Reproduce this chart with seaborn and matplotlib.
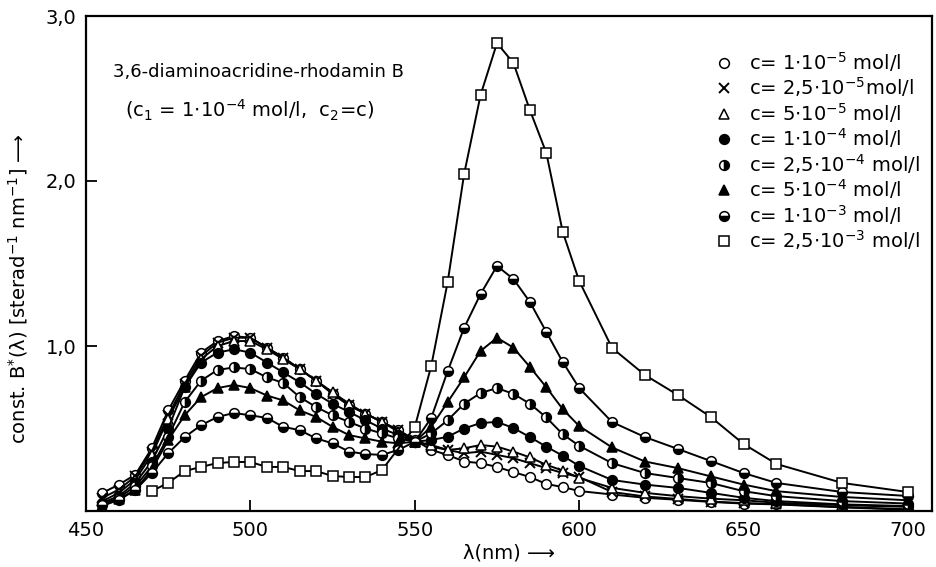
import matplotlib
matplotlib.use("Agg")
import matplotlib.pyplot as plt
import pandas as pd
import seaborn as sns

# wavelength grid (nm) used by the first seven concentrations
WAVELENGTHS = [455, 460, 465, 470, 475, 480, 485, 490, 495, 500, 505, 510, 515,
               520, 525, 530, 535, 540, 545, 550, 555, 560, 565, 570, 575, 580,
               585, 590, 595, 600, 610, 620, 630, 640, 650, 660, 680, 700]
# the 2.5e-3 series has no points below 470 nm and none at 545 nm
SQUARE_WAVELENGTHS = [470, 475, 480, 485, 490, 495, 500, 505, 510, 515, 520, 525,
                      530, 535, 540, 550, 555, 560, 565, 570, 575, 580, 585, 590,
                      595, 600, 610, 620, 630, 640, 650, 660, 680, 700]

C_1E5 = [0.11, 0.16, 0.22, 0.38, 0.61, 0.79, 0.96, 1.03, 1.06, 1.05, 0.99, 0.93, 0.86,
         0.79, 0.71, 0.64, 0.59, 0.54, 0.49, 0.43, 0.37, 0.34, 0.30, 0.29, 0.267, 0.236,
         0.206, 0.164, 0.145, 0.121, 0.10, 0.08, 0.068, 0.055, 0.045, 0.04, 0.022, 0.008]
C_25E5 = [0.08, 0.13, 0.21, 0.36, 0.58, 0.77, 0.94, 1.02, 1.05, 1.05, 0.99, 0.93, 0.86,
          0.79, 0.71, 0.64, 0.59, 0.54, 0.49, 0.43, 0.39, 0.37, 0.35, 0.36, 0.34, 0.32,
          0.29, 0.26, 0.23, 0.206, 0.115, 0.088, 0.073, 0.057, 0.048, 0.042, 0.024, 0.01]
C_5E5 = [0.06, 0.11, 0.19, 0.34, 0.56, 0.75, 0.92, 1.00, 1.03, 1.03, 0.98, 0.92, 0.86,
         0.79, 0.72, 0.65, 0.59, 0.54, 0.48, 0.42, 0.40, 0.37, 0.38, 0.40, 0.39, 0.36,
         0.325, 0.28, 0.245, 0.20, 0.14, 0.11, 0.09, 0.075, 0.065, 0.05, 0.035, 0.025]
C_1E4 = [0.05, 0.09, 0.17, 0.30, 0.50, 0.75, 0.90, 0.96, 0.98, 0.96, 0.90, 0.84, 0.78,
         0.71, 0.65, 0.60, 0.55, 0.50, 0.46, 0.42, 0.43, 0.45, 0.50, 0.533, 0.54, 0.503,
         0.448, 0.39, 0.335, 0.273, 0.188, 0.16, 0.14, 0.11, 0.08, 0.06, 0.04, 0.03]
C_25E4 = [0.04, 0.08, 0.15, 0.27, 0.45, 0.66, 0.79, 0.855, 0.87, 0.86, 0.81, 0.776, 0.69,
          0.63, 0.58, 0.54, 0.50, 0.47, 0.44, 0.42, 0.47, 0.55, 0.65, 0.715, 0.745, 0.71,
          0.65, 0.567, 0.465, 0.395, 0.29, 0.23, 0.20, 0.17, 0.12, 0.09, 0.06, 0.045]
C_5E4 = [0.03, 0.07, 0.13, 0.25, 0.43, 0.58, 0.69, 0.745, 0.764, 0.745, 0.70, 0.67, 0.61,
         0.57, 0.51, 0.46, 0.44, 0.42, 0.41, 0.42, 0.51, 0.66, 0.81, 0.97, 1.05, 0.99,
         0.873, 0.75, 0.617, 0.515, 0.385, 0.30, 0.26, 0.21, 0.16, 0.12, 0.085, 0.065]
C_1E3 = [0.036, 0.067, 0.127, 0.23, 0.35, 0.448, 0.52, 0.57, 0.594, 0.58, 0.564, 0.51, 0.49,
         0.44, 0.41, 0.36, 0.345, 0.34, 0.37, 0.42, 0.564, 0.848, 1.11, 1.315, 1.485, 1.406,
         1.267, 1.085, 0.903, 0.745, 0.539, 0.448, 0.376, 0.303, 0.23, 0.17, 0.115, 0.091]
C_25E3 = [0.121, 0.170, 0.242, 0.267, 0.291, 0.297, 0.297, 0.267, 0.267, 0.242, 0.242,
          0.212, 0.206, 0.206, 0.248, 0.509, 0.879, 1.388, 2.042, 2.521, 2.836, 2.715,
          2.430, 2.170, 1.691, 1.394, 0.988, 0.824, 0.703, 0.570, 0.406, 0.285, 0.170, 0.115]

LABELS = [
    r"c= 1$\cdot$10$^{-5}$ mol/l",
    r"c= 2,5$\cdot$10$^{-5}$mol/l",
    r"c= 5$\cdot$10$^{-5}$ mol/l",
    r"c= 1$\cdot$10$^{-4}$ mol/l",
    r"c= 2,5$\cdot$10$^{-4}$ mol/l",
    r"c= 5$\cdot$10$^{-4}$ mol/l",
    r"c= 1$\cdot$10$^{-3}$ mol/l",
    r"c= 2,5$\cdot$10$^{-3}$ mol/l",
]

SERIES = [
    (WAVELENGTHS, C_1E5),
    (WAVELENGTHS, C_25E5),
    (WAVELENGTHS, C_5E5),
    (WAVELENGTHS, C_1E4),
    (WAVELENGTHS, C_25E4),
    (WAVELENGTHS, C_5E4),
    (WAVELENGTHS, C_1E3),
    (SQUARE_WAVELENGTHS, C_25E3),
]

# marker styles: open circle, cross, open triangle, filled circle,
# half circle, filled triangle, lower-half circle, open square
MARKERS = [
    dict(marker="o", markerfacecolor="white"),
    dict(marker="x", markerfacecolor="black", markeredgewidth=1.4),
    dict(marker="^", markerfacecolor="white"),
    dict(marker="o", markerfacecolor="black"),
    dict(marker="o", fillstyle="right", markerfacecolor="black",
         markerfacecoloralt="white"),
    dict(marker="^", markerfacecolor="black"),
    dict(marker="o", fillstyle="bottom", markerfacecolor="black",
         markerfacecoloralt="white"),
    dict(marker="s", markerfacecolor="white"),
]

sns.set_style("ticks")
plt.rcParams["font.family"] = ["DejaVu Sans"]
plt.rcParams["mathtext.default"] = "regular"
for key in ("text.color", "axes.labelcolor", "xtick.color", "ytick.color"):
    plt.rcParams[key] = "black"

fig = plt.figure(figsize=(9.36, 5.67), dpi=100)
ax = fig.add_axes([86 / 936, 1 - 511 / 567, 846 / 936, 495 / 567])

for (wl, values), label, style in zip(SERIES, LABELS, MARKERS):
    frame = pd.DataFrame({"wl": wl, "val": values})
    kws = dict(markersize=7, markeredgecolor="black", markeredgewidth=1.1)
    kws.update(style)
    sns.lineplot(data=frame, x="wl", y="val", ax=ax, color="black",
                 linewidth=1.4, label=label, **kws)

ax.set_xlim(450, 707.3)
ax.set_ylim(0, 3.0)
ax.set_xticks([450, 500, 550, 600, 650, 700])
ax.set_yticks([1.0, 2.0, 3.0])
ax.set_yticklabels(["1,0", "2,0", "3,0"])
ax.tick_params(direction="in", length=8, width=1.3, labelsize=14, pad=7,
               colors="black")
for side in ax.spines.values():
    side.set_linewidth(1.6)
    side.set_color("black")

ax.set_xlabel("λ(nm) ⟶", fontsize=14)
ax.xaxis.set_label_coords(0.5, -0.065)
ax.set_ylabel(r"const. B$^{*}$(λ) [sterad$^{-1}$ nm$^{-1}$] ⟶", fontsize=14)
ax.yaxis.set_label_coords(-0.066, 0.45)

ax.text(0.032, 0.887, "3,6-diaminoacridine-rhodamin B", transform=ax.transAxes,
        fontsize=13, va="center")
ax.text(0.046, 0.81, r"(c$_1$ = 1$\cdot$10$^{-4}$ mol/l,  c$_2$=c)",
        transform=ax.transAxes, fontsize=14, va="center")

ax.legend(loc="upper right", bbox_to_anchor=(1.0, 0.955), frameon=False,
          handlelength=0, handletextpad=1.3, labelspacing=0.08, fontsize=14,
          borderaxespad=0.2)

fig.savefig("out.png", dpi=100)
